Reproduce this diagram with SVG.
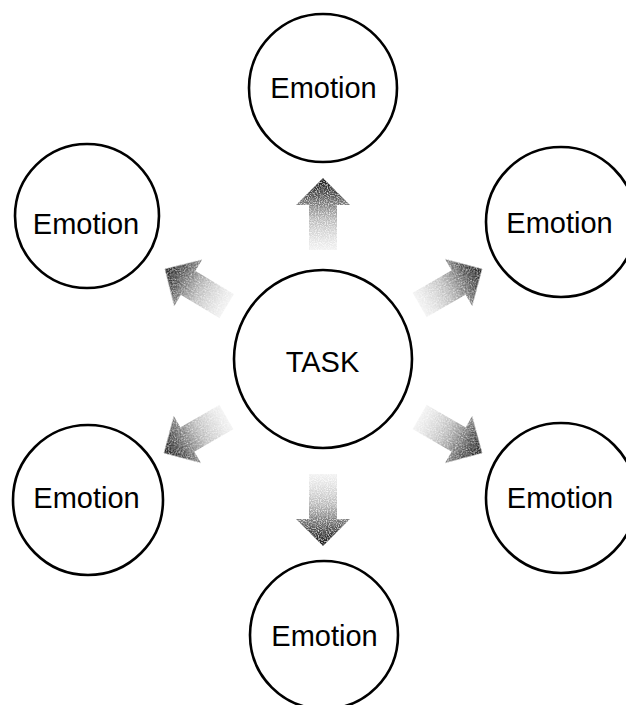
<svg xmlns="http://www.w3.org/2000/svg" width="626" height="705" viewBox="0 0 626 705">
  <style>
    .node circle { fill: #ffffff; stroke: #000000; stroke-width: 2.6; }
    .node text { font-family: "Liberation Sans", Arial, sans-serif; font-size: 29px; fill: #000000; text-anchor: middle; }
    .arrow { fill: url(#arrowGrad); filter: url(#stipple); }
  </style>
  <defs>
    <linearGradient id="arrowGrad" gradientUnits="userSpaceOnUse" x1="-72" y1="0" x2="0" y2="0">
      <stop offset="0" stop-color="#d8d8d8" stop-opacity="0.35"/>
      <stop offset="0.45" stop-color="#a0a0a0" stop-opacity="0.8"/>
      <stop offset="0.75" stop-color="#555555"/>
      <stop offset="1" stop-color="#111111"/>
    </linearGradient>
    <filter id="stipple" x="-10%" y="-10%" width="120%" height="120%">
      <feTurbulence type="fractalNoise" baseFrequency="0.9" numOctaves="1" seed="3" result="noise"/>
      <feColorMatrix in="noise" type="matrix" values="0 0 0 0 0  0 0 0 0 0  0 0 0 0 0  0 0 0 -2.2 1.9" result="mask"/>
      <feComposite in="SourceGraphic" in2="mask" operator="in"/>
    </filter>
    <path id="arrowShape" d="M0,0 L-27,-27 L-27,-14 L-72,-14 L-72,14 L-27,14 L-27,27 Z"/>
  </defs>

  <g id="connectors">
    <use href="#arrowShape" class="arrow" transform="translate(323,178) rotate(-90)"/>
    <use href="#arrowShape" class="arrow" transform="translate(323,546) rotate(90)"/>
    <use href="#arrowShape" class="arrow" transform="translate(165,269) rotate(-149)"/>
    <use href="#arrowShape" class="arrow" transform="translate(482,269) rotate(-30)"/>
    <use href="#arrowShape" class="arrow" transform="translate(482,453) rotate(30)"/>
    <use href="#arrowShape" class="arrow" transform="translate(164,453) rotate(150)"/>
  </g>

  <g id="task" class="node">
    <circle cx="323" cy="359" r="89"/>
    <text x="322.5" y="372">TASK</text>
  </g>
  <g id="emotion-top" class="node">
    <circle cx="323" cy="88" r="74"/>
    <text x="323.5" y="98">Emotion</text>
  </g>
  <g id="emotion-top-left" class="node">
    <circle cx="87" cy="216" r="72"/>
    <text x="86" y="234">Emotion</text>
  </g>
  <g id="emotion-top-right" class="node">
    <circle cx="561" cy="222" r="75"/>
    <text x="559.5" y="233">Emotion</text>
  </g>
  <g id="emotion-bottom-left" class="node">
    <circle cx="88" cy="500" r="75"/>
    <text x="86.5" y="508">Emotion</text>
  </g>
  <g id="emotion-bottom-right" class="node">
    <circle cx="561" cy="498" r="75"/>
    <text x="560" y="508">Emotion</text>
  </g>
  <g id="emotion-bottom" class="node">
    <circle cx="324" cy="635" r="74"/>
    <text x="324.5" y="646">Emotion</text>
  </g>
</svg>
